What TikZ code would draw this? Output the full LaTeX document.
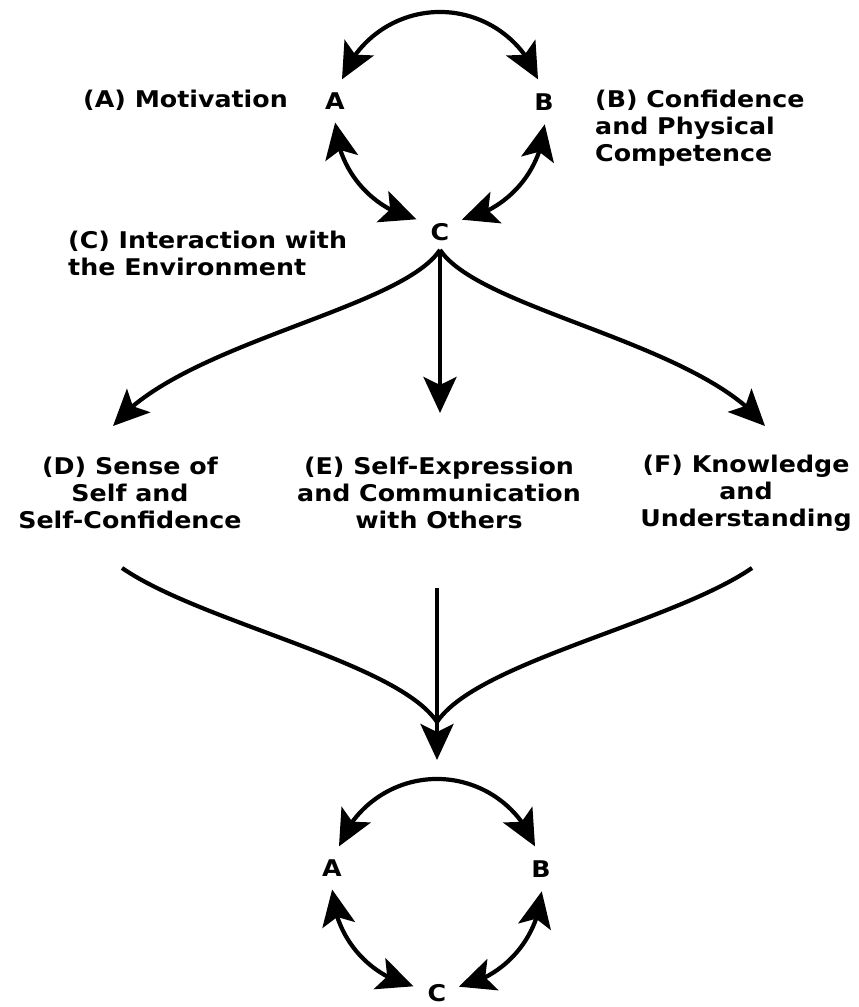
\documentclass[tikz,border=0pt]{standalone}
\usepackage{fontspec}
\newfontfamily\lblfont{DejaVu Sans}[FakeStretch=1.10]
\usetikzlibrary{arrows.meta, bending, calc}

\begin{document}
\begin{tikzpicture}[x=1pt, y=1pt,
    lbl/.style={font=\lblfont\bfseries\fontsize{23}{27}\selectfont, inner sep=0pt},
    wire/.style={line width=4.2pt},
    arr/.style={wire, -{Stealth[length=36pt, width=33pt, inset=8pt]}},
    dbl/.style={wire, {Stealth[length=36pt, width=33pt, inset=8pt]}-{Stealth[length=36pt, width=33pt, inset=8pt]}}]
    \useasboundingbox (0,0) rectangle (859,1007);

    % the two A-B-C cycles
    \foreach \o/\cx/\cy/\cc in {1/440/890/115, 2/437/123/109} {
        \coordinate (o\o) at (\cx,\cy);
        \node[lbl] (a\o) at ($(o\o)+(-105,16)$) {A};
        \node[lbl] (b\o) at ($(o\o)+(104,15)$) {B};
        \node[lbl] (c\o) at ($(o\o)+(0,-\cc)$) {C};
        \draw[dbl] ($(o\o)+(159:105)$) arc[start angle=159, end angle=21, radius=105];
        \draw[dbl] ($(o\o)+(183:105)$) arc[start angle=183, end angle=257, radius=105];
        \draw[dbl] ($(o\o)+(-4:105)$) arc[start angle=-4, end angle=-78, radius=105];
    }

    \node[lbl, anchor=base east] (ta) at (288,899) {(A) Motivation};
    \node[lbl, anchor=west, align=left] (tb) at (595,879) {(B) Confidence\\and Physical\\Competence};
    \node[lbl, anchor=west, align=left] (tc) at (68,754) {(C) Interaction with\\the Environment};

    \node[lbl, align=center] (d) at (130,514) {(D) Sense of\\Self and\\Self-Confidence};
    \node[lbl, align=center] (e) at (439,514) {(E) Self-Expression\\and Communication\\with Others};
    \node[lbl, align=center] (f) at (746,514) {(F) Knowledge\\and\\Understanding};

    % C fans out
    \coordinate (dtip) at (113,581);
    \coordinate (etip) at (440,594);
    \coordinate (ftip) at (765,581);
    \draw[arr] ([yshift=-9pt]c1.south) .. controls (400,697) and (180,664) .. (dtip);
    \draw[arr] ([yshift=-9pt]c1.south) -- (etip);
    \draw[arr] ([yshift=-9pt]c1.south) .. controls (480,697) and (700,664) .. (ftip);

    % D, E, F merge back
    \coordinate (dout) at (122,439);
    \coordinate (eout) at (437,419);
    \coordinate (fout) at (752,439);
    \coordinate (mrg) at (437,285);
    \coordinate (ctip) at (437,247);
    \draw[wire] (dout) .. controls (202,384) and (397,345) .. (mrg);
    \draw[wire] (fout) .. controls (672,384) and (477,345) .. (mrg);
    \draw[arr] (eout) -- (ctip);
\end{tikzpicture}
\end{document}
